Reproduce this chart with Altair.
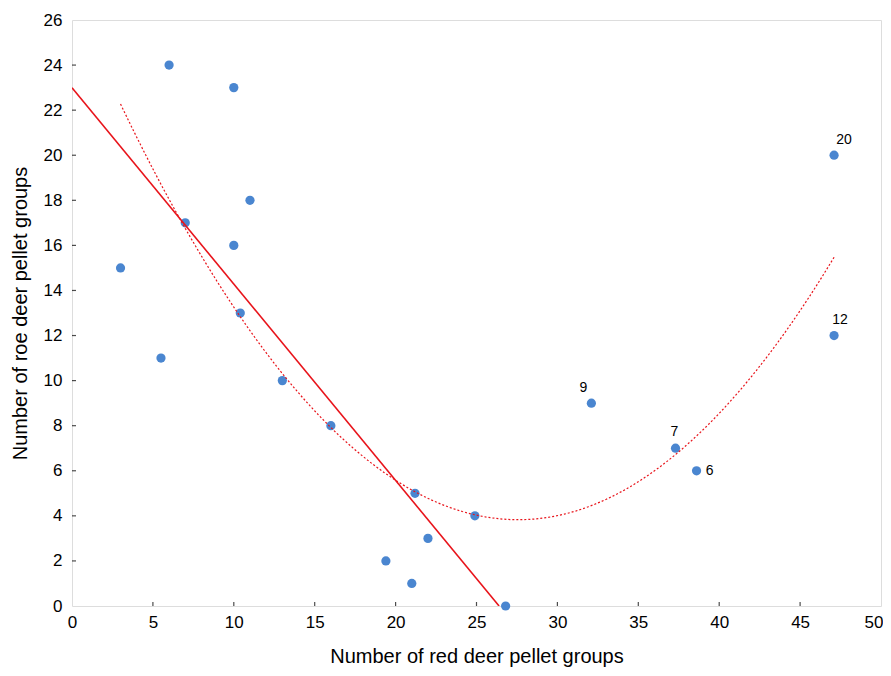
import altair as alt
import numpy as np
import pandas as pd

red_deer = [3.0, 5.5, 6.0, 7.0, 10.0, 10.0, 11.0, 10.4, 13.0, 16.0, 19.4, 21.0,
            21.2, 22.0, 24.9, 26.8, 32.1, 37.3, 38.6, 47.1, 47.1]
roe_deer = [15, 11, 24, 17, 23, 16, 18, 13, 10, 8, 2, 1,
            5, 3, 4, 0, 9, 7, 6, 20, 12]
point_labels = ["", "", "", "", "", "", "", "", "", "", "", "",
                "", "", "", "", "9", "7", "6", "20", "12"]

x_ticks = [0, 5, 10, 15, 20, 25, 30, 35, 40, 45, 50]
y_ticks = [0, 2, 4, 6, 8, 10, 12, 14, 16, 18, 20, 22, 24, 26]

df = pd.DataFrame({"x": red_deer, "y": roe_deer, "label": point_labels})

# Linear fit on the points left of x = 30, drawn from x = 0 to where it meets y = 0
xa = np.array(red_deer)
ya = np.array(roe_deer, dtype=float)
sub = xa < 30
b1, b0 = np.polyfit(xa[sub], ya[sub], 1)
lin_df = pd.DataFrame({"x": [0.0, -b0 / b1], "y": [b0, 0.0]})

# Quadratic fit over all points, across the data range
c2, c1, c0 = np.polyfit(xa, ya, 2)
qx = np.linspace(xa.min(), xa.max(), 120)
quad_df = pd.DataFrame({"x": qx, "y": c2 * qx**2 + c1 * qx + c0})

FONT = "Liberation Sans"
xs = alt.Scale(domain=[0, 50], nice=False, zero=False)
ys = alt.Scale(domain=[0, 26], nice=False, zero=False)

x_enc = alt.X("x:Q", scale=xs, axis=alt.Axis(
    values=x_ticks, title="Number of red deer pellet groups", tickSize=0,
    domain=False, grid=False, labelFontSize=17, labelPadding=8,
    labelAlign=alt.expr("datum.value == 50 ? 'right' : 'center'"),
    labelOffset=alt.expr("datum.value == 50 ? 2 : 0"),
    titleFontSize=20, titleFontWeight="normal", titlePadding=16,
    labelFont=FONT, titleFont=FONT, labelColor="#000", titleColor="#000",
    labelFlush=False))
y_enc = alt.Y("y:Q", scale=ys, axis=alt.Axis(
    values=y_ticks, title="Number of roe deer pellet groups", tickSize=0,
    domain=False, grid=False, labelFontSize=17, labelPadding=10,
    titleFontSize=20, titleFontWeight="normal", titlePadding=13,
    labelFont=FONT, titleFont=FONT, labelColor="#000", titleColor="#000",
    labelFlush=False))

base = alt.Chart(df)

points = base.mark_circle(size=85, color="#4A86D0", opacity=1).encode(x=x_enc, y=y_enc)

lin = alt.Chart(lin_df).mark_line(color="#E8141B", strokeWidth=1.6, clip=True).encode(
    x=alt.X("x:Q", scale=xs), y=alt.Y("y:Q", scale=ys))

quad = alt.Chart(quad_df).mark_line(color="#E8141B", strokeWidth=1.2,
                                    strokeDash=[2, 2]).encode(
    x=alt.X("x:Q", scale=xs), y=alt.Y("y:Q", scale=ys))

label_offsets = {"20": (10, -15), "12": (6, -16), "9": (-8, -15), "7": (-1, -16), "6": (13, 0)}
label_layers = []
for lab, (dx, dy) in label_offsets.items():
    label_layers.append(
        base.transform_filter(alt.datum.label == lab).mark_text(
            dx=dx, dy=dy, fontSize=14, font=FONT, color="#000").encode(
            x=alt.X("x:Q", scale=xs), y=alt.Y("y:Q", scale=ys), text="label:N"))

xt_df = pd.DataFrame({"x": x_ticks[1:-1]})
yt_df = pd.DataFrame({"y": y_ticks[1:-1]})
x_tk = alt.Chart(xt_df).mark_tick(orient="vertical", size=4, thickness=1.2,
                                  color="#000", yOffset=-2).encode(
    x=alt.X("x:Q", scale=xs), y=alt.datum(0, scale=ys))
y_tk = alt.Chart(yt_df).mark_tick(orient="horizontal", size=4, thickness=1.2,
                                  color="#000", xOffset=2).encode(
    y=alt.Y("y:Q", scale=ys), x=alt.datum(0, scale=xs))

chart = alt.layer(points, quad, lin, x_tk, y_tk, *label_layers).properties(
    width=809, height=586,
    autosize=alt.AutoSizeParams(type="none"),
    padding={"left": 64, "top": 12, "right": 2, "bottom": 62},
).configure_view(stroke="#000", strokeWidth=1.6).configure(background="white")

chart.save("out.html", embed_options={"renderer": "svg", "actions": False})
